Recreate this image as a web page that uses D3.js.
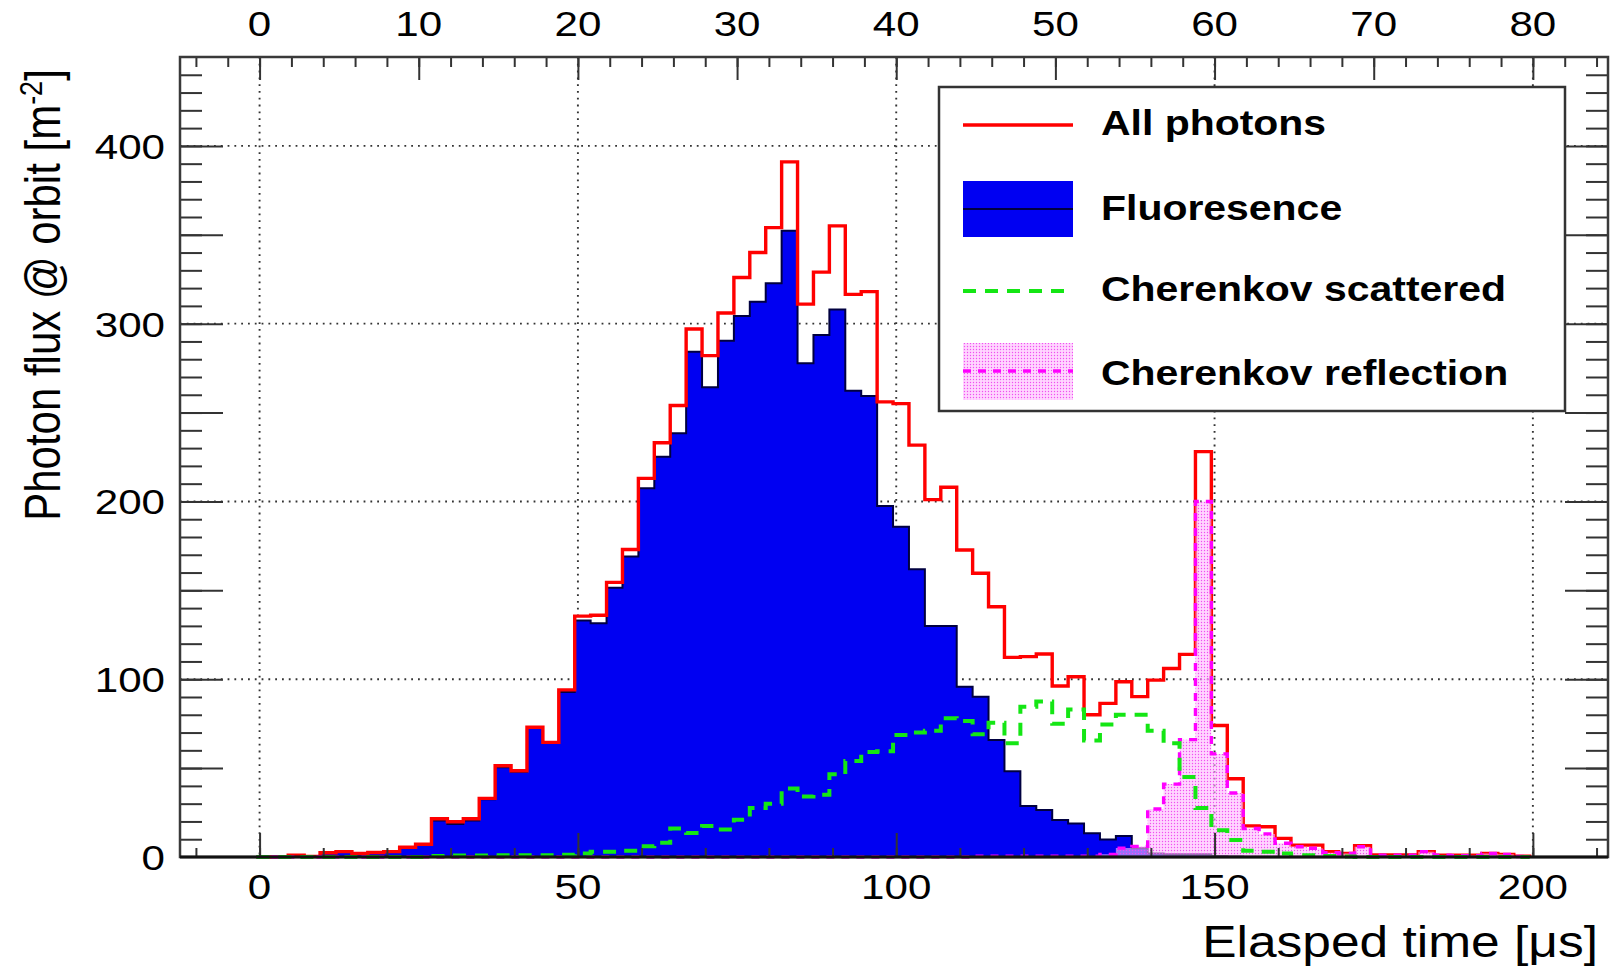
<!DOCTYPE html>
<html>
<head>
<meta charset="utf-8">
<script src="https://cdn.jsdelivr.net/npm/d3@7"></script>
<style>
body { margin: 0; background: #fff; }
text { font-family: "Liberation Sans", Arial, sans-serif; fill: #000; }
</style>
</head>
<body>
<svg width="1622" height="970"></svg>
<script>
// histogram binning (elapsed time in us)
var binStart = -0.5, binWidth = 2.5;

var allPhotons = [0, 0, 1, 0.3, 2.4, 3, 2, 2.5, 3, 5.5,
    7.2, 21.5, 19.8, 21.5, 33, 51.3, 48.5, 73, 64.5, 94,
    135.5, 136, 154.5, 173, 213, 233, 254, 297, 282, 306,
    326, 340, 354, 391, 311, 329, 355, 316.5, 318, 256,
    255, 231.7, 201, 208, 172.7, 159.6, 140.8, 112.3, 112.7, 114.2,
    96.2, 101.4, 80, 86.4, 98.6, 90.2, 99.5, 106, 114, 228,
    74, 44, 17.5, 17, 10.5, 6.7, 6.7, 3, 2, 6.4,
    1.2, 1.2, 1.2, 3, 1, 1, 1, 2, 1.5, 0.5];

var fluorescence = [0, 0, 1, 0.3, 2.4, 3, 2, 2.5, 3, 5.3,
    7, 20.5, 18.5, 20.5, 32.5, 50.5, 48, 72.7, 64.3, 92.8,
    133, 131.5, 151.5, 169, 207.4, 225.2, 238.3, 284.2, 264.2, 290.4,
    304.3, 312.3, 322.7, 352.3, 277.7, 293.6, 308, 262.3, 259.3, 197.4,
    185.8, 161.8, 130, 130, 95.8, 90.2, 65.8, 48.2, 28.7, 26.4,
    20.8, 18.9, 13.3, 9.9, 11.8, 4.9, 2, 1.5, 1.5, 1.5,
    0.5, 0.3, 0, 0, 0, 0, 0, 0, 0, 0,
    0, 0, 0, 0, 0, 0, 0, 0, 0, 0];

var cherenkovScattered = [0, 0, 0, 0, 0, 0, 0, 0, 0, 0,
    0, 0.5, 0.8, 0.8, 0.8, 1, 1, 1, 1, 1.3,
    2, 3, 3, 3.5, 6, 8, 16, 13.5, 17.5, 15.5,
    21, 27.5, 30, 38.5, 34, 35, 46.5, 54, 59, 59.5,
    68.6, 70, 71, 78, 76.5, 69, 75.5, 64, 84.5, 87.5,
    75, 83, 65.5, 74.5, 80, 80, 71, 64, 45, 27.5,
    15, 9.5, 3.5, 3, 2, 1, 1, 0.5, 0.3, 0,
    0, 0, 0, 0, 0, 0, 0, 0, 0, 0];

var cherenkovReflection = [0, 0, 0, 0, 0, 0, 0, 0, 0, 0,
    0, 0, 0, 0, 0, 0, 0, 0, 0, 0,
    0, 0, 0, 0, 0, 0, 0, 0, 0, 0,
    0, 0, 0, 0, 0, 0, 0, 0, 0, 0,
    0, 0, 0, 0, 0, 0.5, 0.5, 0.5, 0.5, 0.5,
    0.5, 0.5, 0.5, 1.5, 5, 6, 27, 41, 66, 200,
    58, 36, 16, 13, 7.7, 5.8, 4.9, 2.4, 2, 5.8,
    1, 1, 1, 3, 1, 0.8, 0.8, 2, 1.5, 0.3];

var yTickLabels = [0, 100, 200, 300, 400];
var xTickLabels = [0, 50, 100, 150, 200];
var topTickLabels = [0, 10, 20, 30, 40, 50, 60, 70, 80];

var legendItems = ["All photons", "Fluoresence", "Cherenkov scattered", "Cherenkov reflection"];

var svg = d3.select("svg"),
    frame = { left: 180, right: 1608, top: 57, bottom: 857 },
    stretch = 1.17; // the figure is wider than tall, glyphs too

var x = d3.scaleLinear().domain([-12.5, 211.8]).range([frame.left, frame.right]);
// top axis is the bottom one times 0.4
var xTop = d3.scaleLinear().domain([-12.5 * 0.4, 211.8 * 0.4]).range([frame.left, frame.right]);
var y = d3.scaleLinear().domain([0, 450]).range([frame.bottom, frame.top]);

var defs = svg.append("defs");
var pat = defs.append("pattern")
    .attr("id", "pinkdots")
    .attr("patternUnits", "userSpaceOnUse")
    .attr("width", 3)
    .attr("height", 3);
pat.append("rect").attr("width", 3).attr("height", 3).attr("fill", "rgba(255,185,255,0.6)");
pat.append("circle").attr("cx", 1.5).attr("cy", 1.5).attr("r", 0.7).attr("fill", "#f050f0");

svg.append("rect").attr("width", 1622).attr("height", 970).attr("fill", "#fff");

// grid
var grid = svg.append("g").attr("stroke", "#333").attr("stroke-width", 1.9).attr("stroke-dasharray", "1.8,5");
grid.selectAll(".gx").data(xTickLabels).enter().append("line")
    .attr("x1", d => x(d)).attr("x2", d => x(d))
    .attr("y1", frame.top).attr("y2", frame.bottom);
grid.selectAll(".gy").data(yTickLabels.filter(d => d > 0)).enter().append("line")
    .attr("x1", frame.left).attr("x2", frame.right)
    .attr("y1", d => y(d)).attr("y2", d => y(d));

// histograms
function steps(values) {
    var pts = [[binStart, 0]];
    values.forEach(function (v, i) { pts.push([binStart + i * binWidth, v]); });
    pts.push([binStart + values.length * binWidth, values[values.length - 1]]);
    pts.push([binStart + values.length * binWidth, 0]);
    return pts;
}
var line = d3.line().curve(d3.curveStepAfter).x(d => x(d[0])).y(d => y(d[1]));
var area = d3.area().curve(d3.curveStepAfter).x(d => x(d[0])).y0(y(0)).y1(d => y(d[1]));

var hist = svg.append("g").attr("fill", "none");
hist.append("path").attr("d", area(steps(fluorescence))).attr("fill", "#0000f2");
hist.append("path").attr("d", line(steps(fluorescence)))
    .attr("stroke", "#000040").attr("stroke-width", 2);
hist.append("path").attr("d", line(steps(allPhotons)))
    .attr("stroke", "#ff0000").attr("stroke-width", 3.4);
hist.append("path").attr("d", area(steps(cherenkovReflection))).attr("fill", "url(#pinkdots)");
hist.append("path").attr("d", line(steps(cherenkovReflection)))
    .attr("stroke", "#ff00ff").attr("stroke-width", 3.4).attr("stroke-dasharray", "8,7");
hist.append("path").attr("d", line(steps(cherenkovScattered)))
    .attr("stroke", "#14e614").attr("stroke-width", 4).attr("stroke-dasharray", "13,9");

// tick marks (labels are drawn apart so they can be stretched)
function ticks(axis, pos) {
    return svg.append("g")
        .attr("transform", pos)
        .call(axis.tickFormat(""))
        .call(g => g.select(".domain").remove())
        .call(g => g.selectAll("line").attr("stroke", "#333").attr("stroke-width", 2));
}
ticks(d3.axisBottom(x).tickValues(d3.range(-10, 211, 10)).tickSize(-9).tickSizeOuter(0), "translate(0," + frame.bottom + ")");
ticks(d3.axisBottom(x).tickValues(xTickLabels).tickSize(-24).tickSizeOuter(0), "translate(0," + frame.bottom + ")");
ticks(d3.axisTop(xTop).tickValues(d3.range(-4, 85, 2)).tickSize(-10).tickSizeOuter(0), "translate(0," + frame.top + ")");
ticks(d3.axisTop(xTop).tickValues(topTickLabels).tickSize(-23).tickSizeOuter(0), "translate(0," + frame.top + ")");
ticks(d3.axisLeft(y).tickValues(d3.range(10, 450, 10)).tickSize(-22).tickSizeOuter(0), "translate(" + frame.left + ",0)");
ticks(d3.axisLeft(y).tickValues(d3.range(50, 450, 50)).tickSize(-43).tickSizeOuter(0), "translate(" + frame.left + ",0)");
ticks(d3.axisRight(y).tickValues(d3.range(10, 450, 10)).tickSize(-22).tickSizeOuter(0), "translate(" + frame.right + ",0)");
ticks(d3.axisRight(y).tickValues(d3.range(50, 450, 50)).tickSize(-43).tickSizeOuter(0), "translate(" + frame.right + ",0)");

svg.append("rect")
    .attr("x", frame.left).attr("y", frame.top)
    .attr("width", frame.right - frame.left).attr("height", frame.bottom - frame.top)
    .attr("fill", "none").attr("stroke", "#3a3a3a").attr("stroke-width", 2.5);
svg.append("line")
    .attr("x1", frame.left).attr("x2", frame.right)
    .attr("y1", frame.bottom).attr("y2", frame.bottom)
    .attr("stroke", "#111").attr("stroke-width", 3);

// labels
function label(g, px, py, txt, size, anchor, weight) {
    return g.append("text")
        .attr("transform", "translate(" + px + "," + py + ") scale(" + stretch + ",1)")
        .attr("font-size", size)
        .attr("font-weight", weight || "normal")
        .attr("text-anchor", anchor)
        .text(txt);
}
var labels = svg.append("g");
yTickLabels.forEach(d => label(labels, 165, y(d) + 13, d, 36, "end"));
xTickLabels.forEach(d => label(labels, x(d), 899, d, 36, "middle"));
topTickLabels.forEach(d => label(labels, xTop(d), 36, d, 36, "middle"));
label(labels, 1598, 957, "Elasped time [\u03bcs]", 44, "end");

var ytitle = svg.append("text")
    .attr("transform", "translate(60,295) scale(" + stretch + ",1) rotate(-90)")
    .attr("font-size", 42)
    .attr("text-anchor", "middle");
ytitle.append("tspan").text("Photon flux @ orbit [m");
ytitle.append("tspan").attr("font-size", 27).attr("dy", -15).text("-2");
ytitle.append("tspan").attr("dy", 15).text("]");

// legend
var legend = svg.append("g");
legend.append("rect")
    .attr("x", 939).attr("y", 87).attr("width", 626).attr("height", 324)
    .attr("fill", "#fff").attr("stroke", "#333").attr("stroke-width", 2.5);

var rowY = [125, 209, 291, 371];
var textY = [135, 220, 301, 385];
legend.append("line").attr("x1", 963).attr("x2", 1073).attr("y1", rowY[0]).attr("y2", rowY[0])
    .attr("stroke", "#ff0000").attr("stroke-width", 3.4);
legend.append("rect").attr("x", 963).attr("y", 181).attr("width", 110).attr("height", 56).attr("fill", "#0000f2");
legend.append("line").attr("x1", 963).attr("x2", 1073).attr("y1", rowY[1]).attr("y2", rowY[1])
    .attr("stroke", "#000040").attr("stroke-width", 2);
legend.append("line").attr("x1", 963).attr("x2", 1073).attr("y1", rowY[2]).attr("y2", rowY[2])
    .attr("stroke", "#14e614").attr("stroke-width", 4).attr("stroke-dasharray", "13,9");
legend.append("rect").attr("x", 963).attr("y", 343).attr("width", 110).attr("height", 57).attr("fill", "url(#pinkdots)");
legend.append("line").attr("x1", 963).attr("x2", 1073).attr("y1", rowY[3]).attr("y2", rowY[3])
    .attr("stroke", "#ff00ff").attr("stroke-width", 3.4).attr("stroke-dasharray", "8,7");

legendItems.forEach((d, i) => label(legend, 1101, textY[i], d, 35, "start", "bold"));
</script>
</body>
</html>
